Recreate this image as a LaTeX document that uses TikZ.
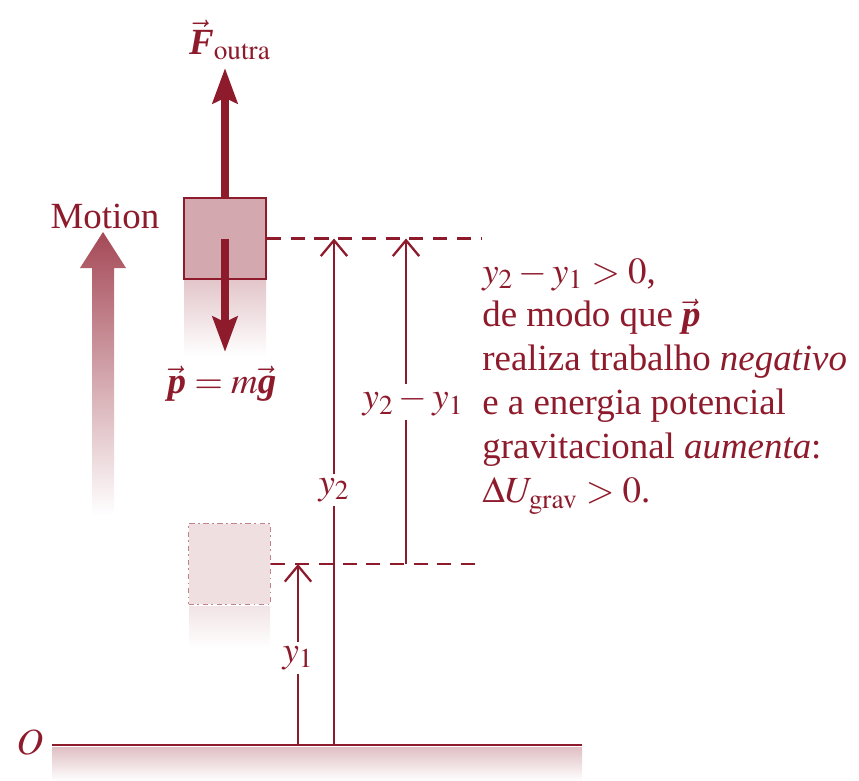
\documentclass[tikz,border=0pt]{standalone}
\usepackage{mathptmx}
\usepackage{fontspec}
\setmainfont{Liberation Serif}
\usetikzlibrary{arrows.meta,positioning,calc}
\definecolor{clMaroon}{HTML}{8E1B2C}
\newcommand{\bvec}[1]{\vec{\textbf{\textit{#1}}}}
\tikzset{
  block/.style={rectangle, minimum width=1.64cm, minimum height=1.62cm, inner sep=0pt},
  blocknow/.style={block, draw=clMaroon, line width=1.2pt, fill=clMaroon!38},
  blockold/.style={block, draw=clMaroon!55, line width=1pt, dash dot, fill=clMaroon!14},
  force/.style={-{Stealth[length=20pt,width=14pt,inset=3pt]}, line width=4.5pt, draw=clMaroon},
  dimline/.style={-{Straight Barb[length=9pt,width=15pt]}, line width=1.3pt, draw=clMaroon},
  dimbase/.style={line width=1.3pt, draw=clMaroon},
  guide/.style={line width=1.3pt, draw=clMaroon, dash pattern=on 8pt off 5.5pt},
  groundline/.style={line width=1.4pt, draw=clMaroon},
  dimlabel/.style={inner sep=2pt},
}
\begin{document}
\begin{tikzpicture}[x=0.02cm, y=-0.02cm,
    every node/.style={font=\fontsize{21}{25}\selectfont, text=clMaroon}]
  \useasboundingbox (0,0) rectangle (859,781);
  % ground
  \shade[top color=clMaroon!28, bottom color=white] (52,747) rectangle (582,781);
  \coordinate (gl) at (52,745);
  \coordinate (gr) at (582,745);
  \draw[groundline] (gl) -- (gr);
  \node (O) at (30,742) {$O$};
  % motion arrow
  \shade[top color=clMaroon!80, bottom color=white]
    (92,515) -- (92,268) -- (80,268) -- (103,232) -- (126,268) -- (114,268) -- (114,515) -- cycle;
  \node (motion) at (105,216) {Motion};
  % blur below the blocks
  \shade[top color=clMaroon!25, bottom color=white] (184,280) rectangle (266,356);
  \shade[top color=clMaroon!12, bottom color=white] (189,606) rectangle (270,648);
  % blocks
  \node[blocknow] (bnow) at (225,238.5) {};
  \node[blockold] (bold) at (229.5,564) {};
  % forces
  \node (Flab) at (230,40) {$\bvec{F}_{\mathrm{outra}}$};
  \node (plab) at (222,384) {$\bvec{p} = m\bvec{g}$};
  \coordinate (Ftip) at (225,68);
  \coordinate (ptip) at (225,352);
  \draw[force] (bnow.north) -- (Ftip);
  \draw[force] (bnow.center) -- (ptip);
  % levels
  \coordinate (d2) at (482,238.5);
  \coordinate (d1) at (482,564);
  \draw[guide] (bnow.east) -- (d2);
  \draw[guide] (bold.east) -- (d1);
  % heights
  \coordinate (g1) at (298,745);
  \coordinate (t1) at (298,564);
  \coordinate (g2) at (334,745);
  \coordinate (t2) at (334,238.5);
  \coordinate (b3) at (406,564);
  \coordinate (t3) at (406,238.5);
  \node[dimlabel] (y1lab) at (298,658) {$y_1$};
  \node[dimlabel] (y2lab) at (334,490) {$y_2$};
  \node[dimlabel] (y21lab) at (413,402) {$y_2 \mathbin{-} y_1$};
  \draw[dimbase] (g1) -- (y1lab);
  \draw[dimline] (y1lab) -- (t1);
  \draw[dimbase] (g2) -- (y2lab);
  \draw[dimline] (y2lab) -- (t2);
  \draw[dimbase] (b3) -- (y21lab.south -| b3);
  \draw[dimline] (y21lab.north -| b3) -- (t3);
  % explanation
  \node[anchor=north west, align=left, inner sep=0pt] (note) at (482,258)
    {$y_2 - y_1 > 0$,\\
     de modo que $\bvec{p}$\\
     realiza trabalho \textit{negativo}\\
     e a energia potencial\\
     gravitacional \textit{aumenta}:\\
     $\Delta U_{\mathrm{grav}} > 0$.};
\end{tikzpicture}
\end{document}
